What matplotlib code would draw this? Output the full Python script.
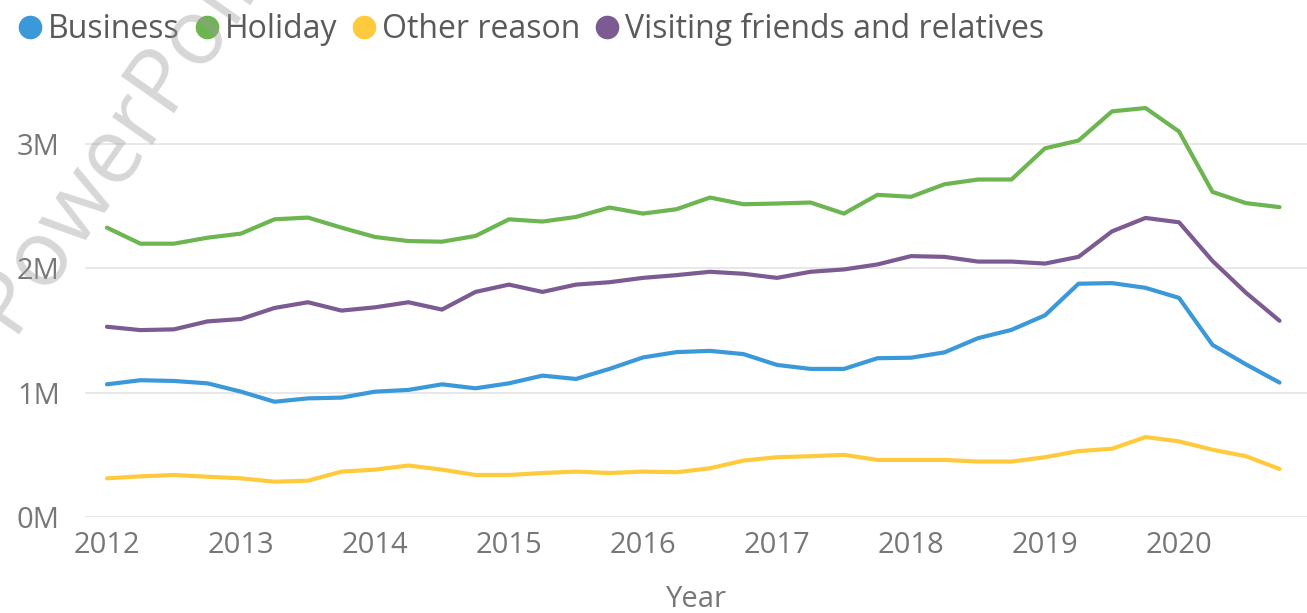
import numpy as np
import matplotlib.pyplot as plt
from matplotlib.lines import Line2D

plt.rcParams['font.family'] = ['Open Sans', 'DejaVu Sans']

# quarterly visits, 2012 Q1 .. 2020 Q4, in millions
quarters = [f"{y} Q{q}" for y in range(2012, 2021) for q in range(1, 5)]

business = [1.067, 1.100, 1.094, 1.075, 1.008, 0.927, 0.954, 0.960, 1.008,
            1.022, 1.067, 1.035, 1.075, 1.137, 1.110, 1.191, 1.283, 1.326,
            1.336, 1.310, 1.223, 1.191, 1.191, 1.277, 1.281, 1.324, 1.438,
            1.505, 1.622, 1.876, 1.881, 1.843, 1.762, 1.384, 1.227, 1.081]
holiday = [2.327, 2.198, 2.198, 2.246, 2.279, 2.394, 2.408, 2.327, 2.252,
           2.219, 2.214, 2.260, 2.394, 2.376, 2.413, 2.489, 2.440, 2.475,
           2.569, 2.515, 2.521, 2.529, 2.440, 2.591, 2.575, 2.676, 2.714,
           2.714, 2.965, 3.027, 3.262, 3.289, 3.100, 2.614, 2.524, 2.492]
other = [0.311, 0.327, 0.338, 0.324, 0.311, 0.284, 0.292, 0.365, 0.381,
         0.414, 0.381, 0.338, 0.338, 0.354, 0.365, 0.354, 0.365, 0.360,
         0.392, 0.454, 0.481, 0.489, 0.500, 0.459, 0.459, 0.459, 0.446,
         0.446, 0.481, 0.530, 0.549, 0.643, 0.608, 0.541, 0.489, 0.386]
vfr = [1.530, 1.503, 1.509, 1.573, 1.592, 1.681, 1.727, 1.660, 1.686,
       1.727, 1.668, 1.810, 1.869, 1.810, 1.869, 1.888, 1.923, 1.945,
       1.972, 1.956, 1.923, 1.972, 1.991, 2.031, 2.098, 2.092, 2.054,
       2.054, 2.038, 2.092, 2.297, 2.405, 2.370, 2.059, 1.803, 1.578]

names = ["Business", "Holiday", "Other reason", "Visiting friends and relatives"]
colors = ["#3b99da", "#6cb550", "#ffcb3d", "#7c5b93"]
series = [business, holiday, other, vfr]

x = np.array([int(s[:4]) + (int(s[-1]) - 1) / 4 for s in quarters])

fig = plt.figure(figsize=(13.07, 6.13), dpi=100)
ax = fig.add_axes([0.065, 0.1566, 0.935, 0.71])

for vals, c in zip(series, colors):
    ax.plot(x, vals, color=c, lw=3, solid_joinstyle='round', solid_capstyle='round', zorder=3)

ax.set_xlim(2011.836, 2020.955)
ax.set_ylim(0, 3.5)
ax.set_yticks([0, 1, 2, 3])
ax.set_yticklabels(["0M", "1M", "2M", "3M"])
ax.set_xticks(range(2012, 2021))
ax.grid(axis='y', color='#e6e6e6', lw=1.3)
ax.set_axisbelow(True)
for s in ax.spines.values():
    s.set_visible(False)
ax.tick_params(axis='both', length=0, labelsize=21, colors='#777777')
ax.tick_params(axis='y', pad=18)
ax.tick_params(axis='x', pad=10)
ax.set_xlabel("Year", fontsize=21, color='#777777', labelpad=18)

handles = [Line2D([], [], ls='none', marker='o', markersize=16, color=c) for c in colors]
fig.legend(handles, names, loc='upper left', bbox_to_anchor=(0.005, 1.0), ncol=4,
           frameon=False, fontsize=23, labelcolor='#5a5a5a', handlelength=0.7,
           handletextpad=0.2, columnspacing=0.5, borderaxespad=0)

# watermark
fig.text(-0.035, 0.47, "PowerPoint", rotation=55, fontsize=66, color='#9a9a9a',
         alpha=0.4, ha='left', va='baseline', zorder=10)

fig.savefig("out.png", dpi=100)
